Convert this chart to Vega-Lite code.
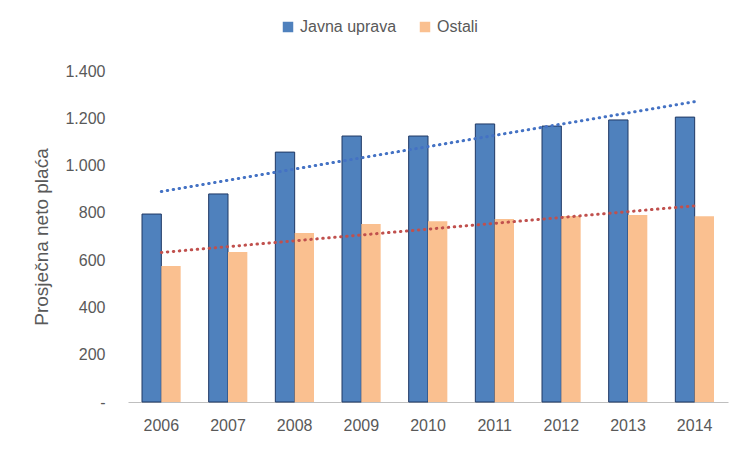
{
  "$schema": "https://vega.github.io/schema/vega-lite/v6.json",
  "width": 600,
  "height": 331,
  "autosize": "none",
  "padding": {"left": 128, "top": 71, "right": 24, "bottom": 50},
  "background": "white",
  "data": {
    "values": [
      {"year": 2006, "series": "Javna uprava", "value": 795},
      {"year": 2007, "series": "Javna uprava", "value": 880},
      {"year": 2008, "series": "Javna uprava", "value": 1057},
      {"year": 2009, "series": "Javna uprava", "value": 1125},
      {"year": 2010, "series": "Javna uprava", "value": 1125},
      {"year": 2011, "series": "Javna uprava", "value": 1176},
      {"year": 2012, "series": "Javna uprava", "value": 1167},
      {"year": 2013, "series": "Javna uprava", "value": 1193},
      {"year": 2014, "series": "Javna uprava", "value": 1205},
      {"year": 2006, "series": "Ostali", "value": 575},
      {"year": 2007, "series": "Ostali", "value": 634},
      {"year": 2008, "series": "Ostali", "value": 715},
      {"year": 2009, "series": "Ostali", "value": 753},
      {"year": 2010, "series": "Ostali", "value": 765},
      {"year": 2011, "series": "Ostali", "value": 774},
      {"year": 2012, "series": "Ostali", "value": 787},
      {"year": 2013, "series": "Ostali", "value": 791},
      {"year": 2014, "series": "Ostali", "value": 786}
    ]
  },
  "layer": [
    {
      "mark": {"type": "bar", "strokeWidth": 1},
      "encoding": {
        "x": {
          "field": "year",
          "type": "ordinal",
          "title": null,
          "scale": {"paddingInner": 0.42, "paddingOuter": 0.21},
          "axis": {
            "labelAngle": 0,
            "labelPadding": 15,
            "ticks": false,
            "domainColor": "#BFBFBF",
            "grid": false
          }
        },
        "xOffset": {"field": "series", "type": "nominal"},
        "y": {
          "field": "value",
          "type": "quantitative",
          "title": "Prosječna neto plaća",
          "scale": {"domain": [0, 1400], "nice": false},
          "axis": {
            "values": [0, 200, 400, 600, 800, 1000, 1200, 1400],
            "labelExpr": "datum.value == 0 ? '-' : replace(format(datum.value, ','), ',', '.')",
            "domain": false,
            "ticks": false,
            "grid": false,
            "labelPadding": 23,
            "titlePadding": 13,
            "titleFontSize": 19,
            "titleFontWeight": "normal"
          }
        },
        "fill": {
          "field": "series",
          "type": "nominal",
          "scale": {"domain": ["Javna uprava", "Ostali"], "range": ["#4F81BD", "#FAC090"]},
          "legend": {
            "title": null,
            "orient": "none",
            "direction": "horizontal",
            "legendX": 152,
            "legendY": -52,
            "symbolType": "square",
            "symbolSize": 110,
            "symbolStrokeWidth": 1,
            "labelFontSize": 16,
            "labelOffset": 4,
            "columnPadding": 20,
            "encode": {
              "symbols": {
                "update": {
                  "stroke": {"signal": "datum.value == 'Javna uprava' ? '#1F3864' : 'transparent'"}
                }
              }
            }
          }
        },
        "stroke": {
          "condition": {"test": "datum.series == 'Javna uprava'", "value": "#1F3864"},
          "value": null
        }
      }
    },
    {
      "transform": [
        {"regression": "value", "on": "year", "groupby": ["series"]}
      ],
      "mark": {"type": "line", "strokeWidth": 3, "strokeDash": [0.5, 5.5], "strokeCap": "round"},
      "encoding": {
        "x": {"field": "year", "type": "ordinal"},
        "y": {"field": "value", "type": "quantitative"},
        "stroke": {
          "field": "series",
          "type": "nominal",
          "scale": {"domain": ["Javna uprava", "Ostali"], "range": ["#4472C4", "#C0504D"]},
          "legend": null
        }
      }
    }
  ],
  "resolve": {"scale": {"stroke": "independent"}},
  "config": {
    "font": "Liberation Sans",
    "view": {"stroke": null},
    "axis": {
      "labelFontSize": 16,
      "labelColor": "#595959",
      "titleColor": "#595959",
      "labelFont": "Liberation Sans",
      "titleFont": "Liberation Sans"
    },
    "legend": {"labelColor": "#595959", "labelFont": "Liberation Sans"}
  }
}
